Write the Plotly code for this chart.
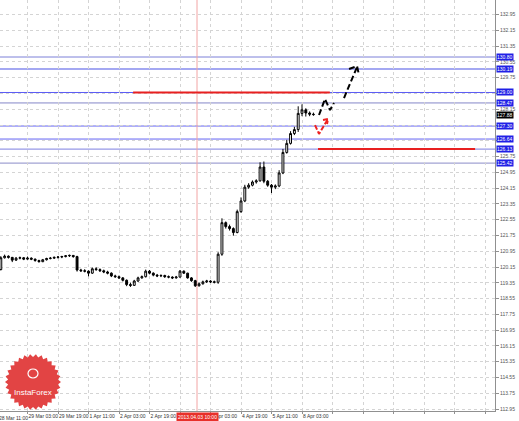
import math
import plotly.graph_objects as go

# ---------------- data ----------------
time_labels = ["28 Mar 11:00", "29 Mar 03:00", "29 Mar 19:00", "1 Apr 11:00", "2 Apr 03:00",
               "2 Apr 19:00", "3 Apr 11:00", "4 Apr 03:00", "4 Apr 19:00", "5 Apr 11:00", "8 Apr 03:00"]
covered_time_labels = ["3 Apr 11:00"]
bars_per_label = 8

bar_idx = list(range(1, 84))
opens = [120.02, 120.62, 120.70, 120.64, 120.50, 120.60, 120.62, 120.55, 120.60, 120.55,
         120.48, 120.42, 120.52, 120.58, 120.60, 120.64, 120.66, 120.68, 120.72, 120.74,
         120.68, 120.00, 119.96, 119.94, 119.84, 120.06, 120.02, 119.96, 119.90, 119.84,
         119.70, 119.66, 119.60, 119.48, 119.26, 119.22, 119.44, 119.60, 119.66, 119.94,
         119.84, 119.74, 119.70, 119.72, 119.66, 119.64, 119.60, 119.64, 119.94, 119.84,
         119.60, 119.46, 119.20, 119.30, 119.40, 119.44, 119.40, 119.38, 120.80, 122.40,
         122.20, 122.10, 121.90, 122.96, 123.50, 124.20, 124.30, 124.46, 124.52, 125.22,
         124.50, 124.30, 124.20, 124.26, 124.92, 125.96, 126.42, 126.92, 127.12, 127.94,
         128.12, 127.96, 127.90]
highs = [120.70, 120.78, 120.74, 120.66, 120.66, 120.68, 120.66, 120.68, 120.64, 120.58,
         120.52, 120.56, 120.62, 120.66, 120.68, 120.70, 120.72, 120.76, 120.78, 120.76,
         120.72, 120.06, 120.04, 119.98, 120.12, 120.14, 120.08, 120.02, 119.96, 119.88,
         119.76, 119.72, 119.64, 119.52, 119.36, 119.50, 119.66, 119.72, 120.02, 120.00,
         119.88, 119.80, 119.78, 119.76, 119.72, 119.68, 119.70, 120.00, 119.98, 119.86,
         119.64, 119.50, 119.36, 119.46, 119.50, 119.48, 119.46, 120.90, 122.62, 122.46,
         122.30, 122.16, 123.06, 123.68, 124.32, 124.40, 124.54, 124.60, 125.46, 125.50,
         124.56, 124.36, 124.34, 125.06, 126.14, 126.60, 127.04, 127.26, 128.30, 128.40,
         128.20, 128.04, 127.98]
lows = [119.98, 120.58, 120.58, 120.40, 120.46, 120.54, 120.50, 120.52, 120.50, 120.42,
        120.38, 120.40, 120.48, 120.54, 120.56, 120.58, 120.60, 120.64, 120.66, 120.62,
        119.92, 119.90, 119.88, 119.68, 119.80, 119.96, 119.90, 119.84, 119.78, 119.64,
        119.60, 119.54, 119.42, 119.18, 119.14, 119.20, 119.40, 119.56, 119.62, 119.78,
        119.68, 119.64, 119.64, 119.60, 119.58, 119.54, 119.56, 119.62, 119.80, 119.56,
        119.40, 119.14, 119.16, 119.26, 119.34, 119.34, 119.32, 119.30, 120.72, 122.10,
        122.00, 121.74, 121.86, 122.90, 123.44, 124.12, 124.24, 124.38, 124.48, 124.40,
        124.22, 123.90, 124.10, 124.20, 124.86, 125.90, 126.36, 126.84, 127.00, 127.80,
        127.78, 127.80, 127.82]
closes = [120.62, 120.70, 120.64, 120.50, 120.60, 120.62, 120.55, 120.60, 120.55, 120.48,
          120.42, 120.52, 120.58, 120.60, 120.64, 120.66, 120.68, 120.72, 120.74, 120.68,
          120.00, 119.96, 119.94, 119.84, 120.06, 120.02, 119.96, 119.90, 119.84, 119.70,
          119.66, 119.60, 119.48, 119.26, 119.22, 119.44, 119.60, 119.66, 119.94, 119.84,
          119.74, 119.70, 119.72, 119.66, 119.64, 119.60, 119.64, 119.94, 119.84, 119.60,
          119.46, 119.20, 119.30, 119.40, 119.44, 119.40, 119.38, 120.80, 122.40, 122.20,
          122.10, 121.90, 122.96, 123.50, 124.20, 124.30, 124.46, 124.52, 125.22, 124.50,
          124.30, 124.20, 124.26, 124.92, 125.96, 126.42, 126.92, 127.12, 127.94, 128.12,
          127.96, 127.90, 127.88]

price_ticks = [112.95, 113.75, 114.55, 115.35, 116.15, 116.95, 117.75, 118.55, 119.35,
               120.15, 120.95, 121.75, 122.55, 123.35, 124.15, 124.95, 125.75, 126.55,
               127.35, 128.15, 128.95, 129.75, 130.55, 131.35, 132.15, 132.95, 133.75]
covered_price_ticks = [126.55, 127.35, 128.95]

levels = [130.80, 130.19, 129.00, 128.47, 127.30, 126.64, 126.13, 125.42]
level_colors = ["#7c80d8", "#a4a8f2", "#5c5cf4", "#8486c8", "#6464f2", "#6464f2", "#7c7ee0", "#8a8cc8"]
level_widths = [1, 2, 1, 1, 1, 1, 1, 1]

red_levels = [129.00, 126.13]
red_start = [35.7, 84.2]
red_end = [87.3, 125.4]

last_price = 127.88
marker_bar = 52.46
marker_label = "2013.04.03 10:00"

black_x = [84.46, 86.03, 87.34, 88.39, None, 91.02, 94.43, None, 92.33, 94.43, 94.95]
black_y = [127.86, 128.67, 128.11, 128.47, None, 128.72, 130.29, None, 130.19, 130.34, 129.89]
red_x = [83.41, 84.46, 86.82, None, 85.51, 86.82, 86.56]
red_y = [127.35, 126.90, 127.66, None, 127.61, 127.66, 127.40]

# ---------------- figure ----------------
W, H = 519, 421
ML, MR, MT, MB = 0, 24, 0, 10
PW, PH = W - ML - MR, H - MT - MB
FONT = "Liberation Sans, Arial, sans-serif"
FS = 5

fig = go.Figure()
fig.add_trace(go.Candlestick(
    x=bar_idx, open=opens, high=highs, low=lows, close=closes,
    increasing=dict(line=dict(color="black", width=1), fillcolor="white"),
    decreasing=dict(line=dict(color="black", width=1), fillcolor="black"),
    whiskerwidth=0, showlegend=False, hoverinfo="skip"))

shapes = []
for lv, c, w in zip(levels, level_colors, level_widths):
    shapes.append(dict(type="line", xref="paper", x0=0, x1=1, yref="y", y0=lv, y1=lv,
                       line=dict(color=c, width=w), layer="below"))
for lv, s, e in zip(red_levels, red_start, red_end):
    shapes.append(dict(type="line", xref="x", x0=s, x1=e, yref="y", y0=lv, y1=lv,
                       line=dict(color="#e82020", width=2)))
shapes.append(dict(type="line", xref="x", x0=marker_bar, x1=marker_bar, yref="paper", y0=0, y1=1,
                   line=dict(color="#f2a4a4", width=1), layer="below"))

# logo starburst (decoration)
cx, cy, R1, R2, N = 33, 382, 28, 25, 30
pts = []
for i in range(2 * N):
    a = math.pi * i / N
    r = R1 if i % 2 == 0 else R2
    px = cx + r * math.cos(a)
    py = cy + r * math.sin(a)
    pts.append((px / PW, 1 - py / PH))
path = "M " + " L ".join(f"{x:.4f},{y:.4f}" for x, y in pts) + " Z"
shapes.append(dict(type="path", xref="paper", yref="paper", path=path,
                   fillcolor="#e24444", line=dict(color="#e24444", width=0), layer="above"))
shapes.append(dict(type="circle", xref="paper", yref="paper",
                   x0=(cx - 5) / PW, x1=(cx + 5) / PW, y0=1 - (cy - 4) / PH, y1=1 - (cy - 13) / PH,
                   line=dict(color="white", width=1.2), fillcolor="rgba(0,0,0,0)", layer="above"))

fig.add_trace(go.Scatter(x=black_x, y=black_y, mode="lines",
                         line=dict(color="black", width=2, dash="6px,3px"),
                         showlegend=False, hoverinfo="skip", connectgaps=False))
fig.add_trace(go.Scatter(x=red_x, y=red_y, mode="lines",
                         line=dict(color="#ee2222", width=2, dash="5px,2px"),
                         showlegend=False, hoverinfo="skip", connectgaps=False))

annotations = []
for lv in levels:
    annotations.append(dict(xref="paper", x=1, xanchor="left", xshift=1, yref="y", y=lv,
                            text=f"{lv:.2f}", showarrow=False, bgcolor="#2020e6",
                            font=dict(color="white", size=FS, family=FONT), borderpad=0))
annotations.append(dict(xref="paper", x=1, xanchor="left", xshift=1, yref="y", y=last_price,
                        text=f"{last_price:.2f}", showarrow=False, bgcolor="black",
                        font=dict(color="white", size=FS, family=FONT), borderpad=0))
annotations.append(dict(xref="x", x=marker_bar, xanchor="center", yref="paper", y=0, yanchor="top",
                        yshift=-1, text=marker_label, showarrow=False, bgcolor="#e8302a",
                        font=dict(color="white", size=FS, family=FONT), borderpad=1))
annotations.append(dict(xref="paper", x=0, xanchor="left", xshift=-3, yref="paper", y=0, yanchor="top",
                        yshift=-2, text=time_labels[0], showarrow=False,
                        font=dict(color="#333", size=FS, family=FONT)))
annotations.append(dict(xref="paper", x=cx / PW, xanchor="center", yref="paper", y=1 - 392 / PH,
                        yanchor="middle", text="InstaForex", showarrow=False,
                        font=dict(color="white", size=8, family=FONT)))

tickvals_x = [bars_per_label * k for k in range(0, 17)]
ticktext_x = [("" if t in covered_time_labels else t) for t in time_labels]
ticktext_x += [""] * (len(tickvals_x) - len(ticktext_x))
ticktext_y = [("" if v in covered_price_ticks else f"{v:.2f}") for v in price_ticks]

fig.update_layout(
    width=W, height=H, margin=dict(l=ML, r=MR, t=MT, b=MB),
    paper_bgcolor="white", plot_bgcolor="white",
    shapes=shapes, annotations=annotations, hovermode=False, showlegend=False,
    xaxis=dict(range=[0.787, 130.62], rangeslider=dict(visible=False),
               tickmode="array", tickvals=tickvals_x, ticktext=ticktext_x,
               ticklabelposition="outside right", tickangle=0,
               showgrid=True, gridcolor="#d4d4d4", griddash="dot", gridwidth=1,
               showline=True, linecolor="#909090", linewidth=1,
               ticks="outside", ticklen=2, tickcolor="#909090",
               tickfont=dict(size=FS, color="#333", family=FONT), zeroline=False),
    yaxis=dict(range=[112.85, 133.69], side="right",
               tickmode="array", tickvals=price_ticks, ticktext=ticktext_y,
               showgrid=True, gridcolor="#d4d4d4", griddash="dot", gridwidth=1,
               showline=True, linecolor="#909090", linewidth=1,
               ticks="outside", ticklen=3, tickcolor="#909090",
               tickfont=dict(size=FS, color="#555", family=FONT), zeroline=False),
)

fig.write_html("out.html", config={"displayModeBar": False},
               post_script="document.body.style.margin='0';document.body.style.overflow='hidden';")
